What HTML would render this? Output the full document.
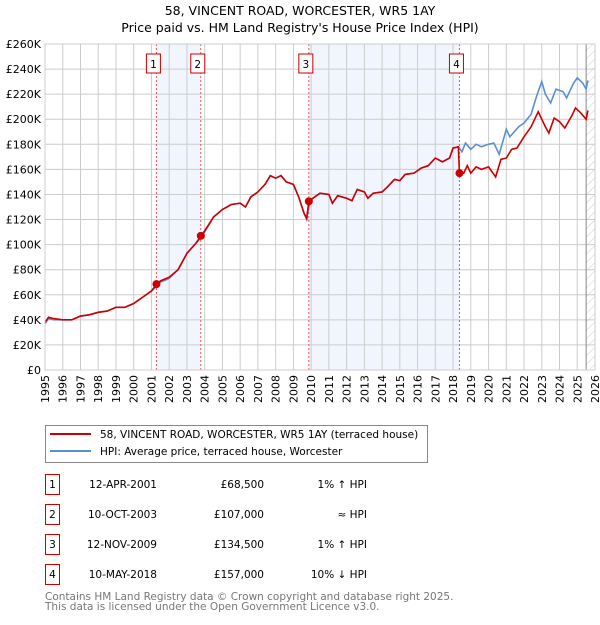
<!DOCTYPE html>
<html><head><meta charset="utf-8"><style>
body{margin:0;background:#fff;font-family:"Liberation Sans","DejaVu Sans",sans-serif;}
svg text{font-family:"DejaVu Sans","Liberation Sans",sans-serif;}
</style></head><body>
<svg id="chart" width="600" height="620" xmlns="http://www.w3.org/2000/svg">
<defs><pattern id="hatch" width="6" height="6" patternUnits="userSpaceOnUse" patternTransform="rotate(45)"><line x1="0" y1="0" x2="0" y2="6" stroke="#ccc" stroke-width="1"/></pattern></defs>
<text x="300" y="15" text-anchor="middle" font-size="12.5">58, VINCENT ROAD, WORCESTER, WR5 1AY</text>
<text x="300" y="32" text-anchor="middle" font-size="12.5">Price paid vs. HM Land Registry's House Price Index (HPI)</text>
<g id="plot"></g>
<g>
<rect x="45.5" y="425.5" width="382" height="37" fill="#fff" stroke="#888"/>
<line x1="50" y1="434" x2="91" y2="434" stroke="#cc0000" stroke-width="2"/>
<text x="100" y="438" font-size="10.5">58, VINCENT ROAD, WORCESTER, WR5 1AY (terraced house)</text>
<line x1="50" y1="451" x2="91" y2="451" stroke="#5b8fd4" stroke-width="2"/>
<text x="100" y="455" font-size="10.5">HPI: Average price, terraced house, Worcester</text>
</g>
<g id="table" font-size="10.5"></g>
<text x="45" y="600" font-size="10.5" fill="#777">Contains HM Land Registry data © Crown copyright and database right 2025.</text>
<text x="45" y="610" font-size="10.5" fill="#777">This data is licensed under the Open Government Licence v3.0.</text>
</svg>
<script>
const hpiYears=[1995,1995.2,1995.5,1996,1996.5,1997,1997.5,1998,1998.5,1999,1999.5,2000,2000.5,2001,2001.3,2001.5,2002,2002.5,2003,2003.5,2003.8,2004,2004.5,2005,2005.5,2006,2006.3,2006.6,2007,2007.4,2007.7,2008,2008.3,2008.6,2009,2009.3,2009.6,2009.75,2009.87,2010,2010.5,2011,2011.2,2011.5,2012,2012.3,2012.6,2013,2013.2,2013.5,2014,2014.3,2014.7,2015,2015.3,2015.8,2016.2,2016.6,2017,2017.4,2017.8,2018,2018.3,2018.5,2018.7,2019,2019.3,2019.6,2020,2020.3,2020.6,2021,2021.2,2021.7,2022,2022.4,2022.7,2023,2023.2,2023.5,2023.8,2024.2,2024.4,2024.8,2025,2025.3,2025.5,2025.6];
const hpiValues=[37,41,40,40,40,43,44,46,47,50,50,53,58,63,67,70,73,80,93,101,106,110,122,128,132,133,130,138,142,148,155,153,155,150,148,138,125,120,130,136,141,140,133,139,137,135,144,142,137,141,142,146,152,151,156,157,161,163,169,166,169,177,178,174,181,176,180,178,180,181,172,192,186,194,197,204,218,230,220,213,224,222,217,229,233,229,224,231];
const redYears=[1995,1995.2,1995.5,1996,1996.5,1997,1997.5,1998,1998.5,1999,1999.5,2000,2000.5,2001,2001.3,2001.5,2002,2002.5,2003,2003.5,2003.8,2004,2004.5,2005,2005.5,2006,2006.3,2006.6,2007,2007.4,2007.7,2008,2008.3,2008.6,2009,2009.3,2009.6,2009.75,2009.87,2010,2010.5,2011,2011.2,2011.5,2012,2012.3,2012.6,2013,2013.2,2013.5,2014,2014.3,2014.7,2015,2015.3,2015.8,2016.2,2016.6,2017,2017.4,2017.8,2018,2018.3,2018.36,2018.6,2018.8,2019,2019.3,2019.6,2020,2020.4,2020.7,2021,2021.3,2021.6,2022,2022.4,2022.8,2023.2,2023.4,2023.7,2024,2024.3,2024.7,2024.9,2025.2,2025.5,2025.6];
const redValues=[38,42,41,40,40,43,44,46,47,50,50,53,58,63,68.5,71,74,80,93,101,107,111,122,128,132,133,130,138,142,148,155,153,155,150,148,138,125,121,134.5,136,141,140,133,139,137,135,144,142,137,141,142,146,152,151,156,157,161,163,169,166,169,177,178,157,157,163,157,162,160,162,154,168,169,176,177,186,194,206,194,189,201,198,193,203,209,205,200,207];
const saleLabels=["1","2","3","4"];
const saleYears=[2001.28,2003.78,2009.87,2018.36];
const salePrices=[68.5,107,134.5,157];
const saleDates=["12-APR-2001","10-OCT-2003","12-NOV-2009","10-MAY-2018"];
const salePriceText=["£68,500","£107,000","£134,500","£157,000"];
const saleHpiText=["1% ↑ HPI","≈ HPI","1% ↑ HPI","10% ↓ HPI"];
const yTicks=[0,20,40,60,80,100,120,140,160,180,200,220,240,260];
const xTicks=[1995,1996,1997,1998,1999,2000,2001,2002,2003,2004,2005,2006,2007,2008,2009,2010,2011,2012,2013,2014,2015,2016,2017,2018,2019,2020,2021,2022,2023,2024,2025,2026];
const X0=45,X1=595,Y0=370,Y1=44;
const xs=y=>X0+(y-1995)/(2026-1995)*(X1-X0);
const ys=v=>Y0-v/260*(Y0-Y1);
const NS="http://www.w3.org/2000/svg";
const plot=document.getElementById('plot');
function mk(tag,attrs,parent){const e=document.createElementNS(NS,tag);for(const k in attrs)e.setAttribute(k,attrs[k]);(parent||plot).appendChild(e);return e;}
// shading
for(const [a,b] of [[0,1],[2,3]]){
 const r=mk('rect',{x:xs(saleYears[a]),y:Y1,width:xs(saleYears[b])-xs(saleYears[a]),height:Y0-Y1,fill:'#eef3fc',opacity:0.8});
 
 
}
const hx=xs(2025.5);
const hr=mk('rect',{x:hx,y:Y1,width:X1-hx,height:Y0-Y1,fill:'url(#hatch)'});


// grid
for(const t of yTicks){
 const l=mk('line',{x1:X0,x2:X1,y1:ys(t),y2:ys(t),stroke:'#ccc','stroke-width':1});
 
 
 const tx=mk('text',{x:X0-4,y:ys(t)+4,'text-anchor':'end','font-size':11});
 tx.textContent='£'+(t===0?'0':t+'K');
 
 
}
for(const t of xTicks){
 const l=mk('line',{x1:xs(t),x2:xs(t),y1:Y1,y2:Y0,stroke:'#ccc','stroke-width':1});
 
 
 const tx=mk('text',{x:0,y:0,'text-anchor':'end','font-size':11,transform:`translate(${xs(t)+4},${Y0+5}) rotate(-90)`});
 tx.textContent=t;
 
 
}
const vl=mk('line',{x1:hx,x2:hx,y1:Y1,y2:Y0,stroke:'#888','stroke-width':1});


// sale vlines
saleYears.forEach((y,i)=>{
 const l=mk('line',{x1:xs(y),x2:xs(y),y1:Y1,y2:Y0,stroke:'#e55','stroke-width':1,'stroke-dasharray':'2,2'});
 
 
});
// series
const hp=mk('polyline',{points:hpiYears.map((y,i)=>xs(y)+','+ys(hpiValues[i])).join(' '),fill:'none',stroke:'#5b8fd4','stroke-width':1.6});


const rp=mk('polyline',{points:redYears.map((y,i)=>xs(y)+','+ys(redValues[i])).join(' '),fill:'none',stroke:'#cc0000','stroke-width':1.6});


saleYears.forEach((y,i)=>{
 const c=mk('circle',{cx:xs(y),cy:ys(salePrices[i]),r:4,fill:'#cc0000'});
 
 
 const bx=xs(y)-3;
 const r=mk('rect',{x:bx-7,y:54,width:14,height:19,fill:'#fff',stroke:'#cc0000','stroke-width':1});
 
 
 const t=mk('text',{x:bx,y:68,'text-anchor':'middle','font-size':10.5});
 t.textContent=saleLabels[i];
 
 
});
const ax=mk('rect',{x:X0,y:Y1,width:X1-X0,height:Y0-Y1,fill:'none',stroke:'#ccc'});


// table
const tb=document.getElementById('table');
saleLabels.forEach((s,i)=>{
 const yy=483+i*30;
 const r=mk('rect',{x:45.5,y:yy-8.5,width:14,height:20,fill:'#fff',stroke:'#cc0000'},tb);
 
 
 const vals=[[52.5,'middle',s],[157,'end',saleDates[i]],[264,'end',salePriceText[i]],[367,'end',saleHpiText[i]]];
 vals.forEach(([x,a,txt],j)=>{
  const t=mk('text',{x:x,y:yy+5,'text-anchor':a,'font-size':10.5},tb);
  t.textContent=txt;
  
  
 });
});
</script>
</body></html>
